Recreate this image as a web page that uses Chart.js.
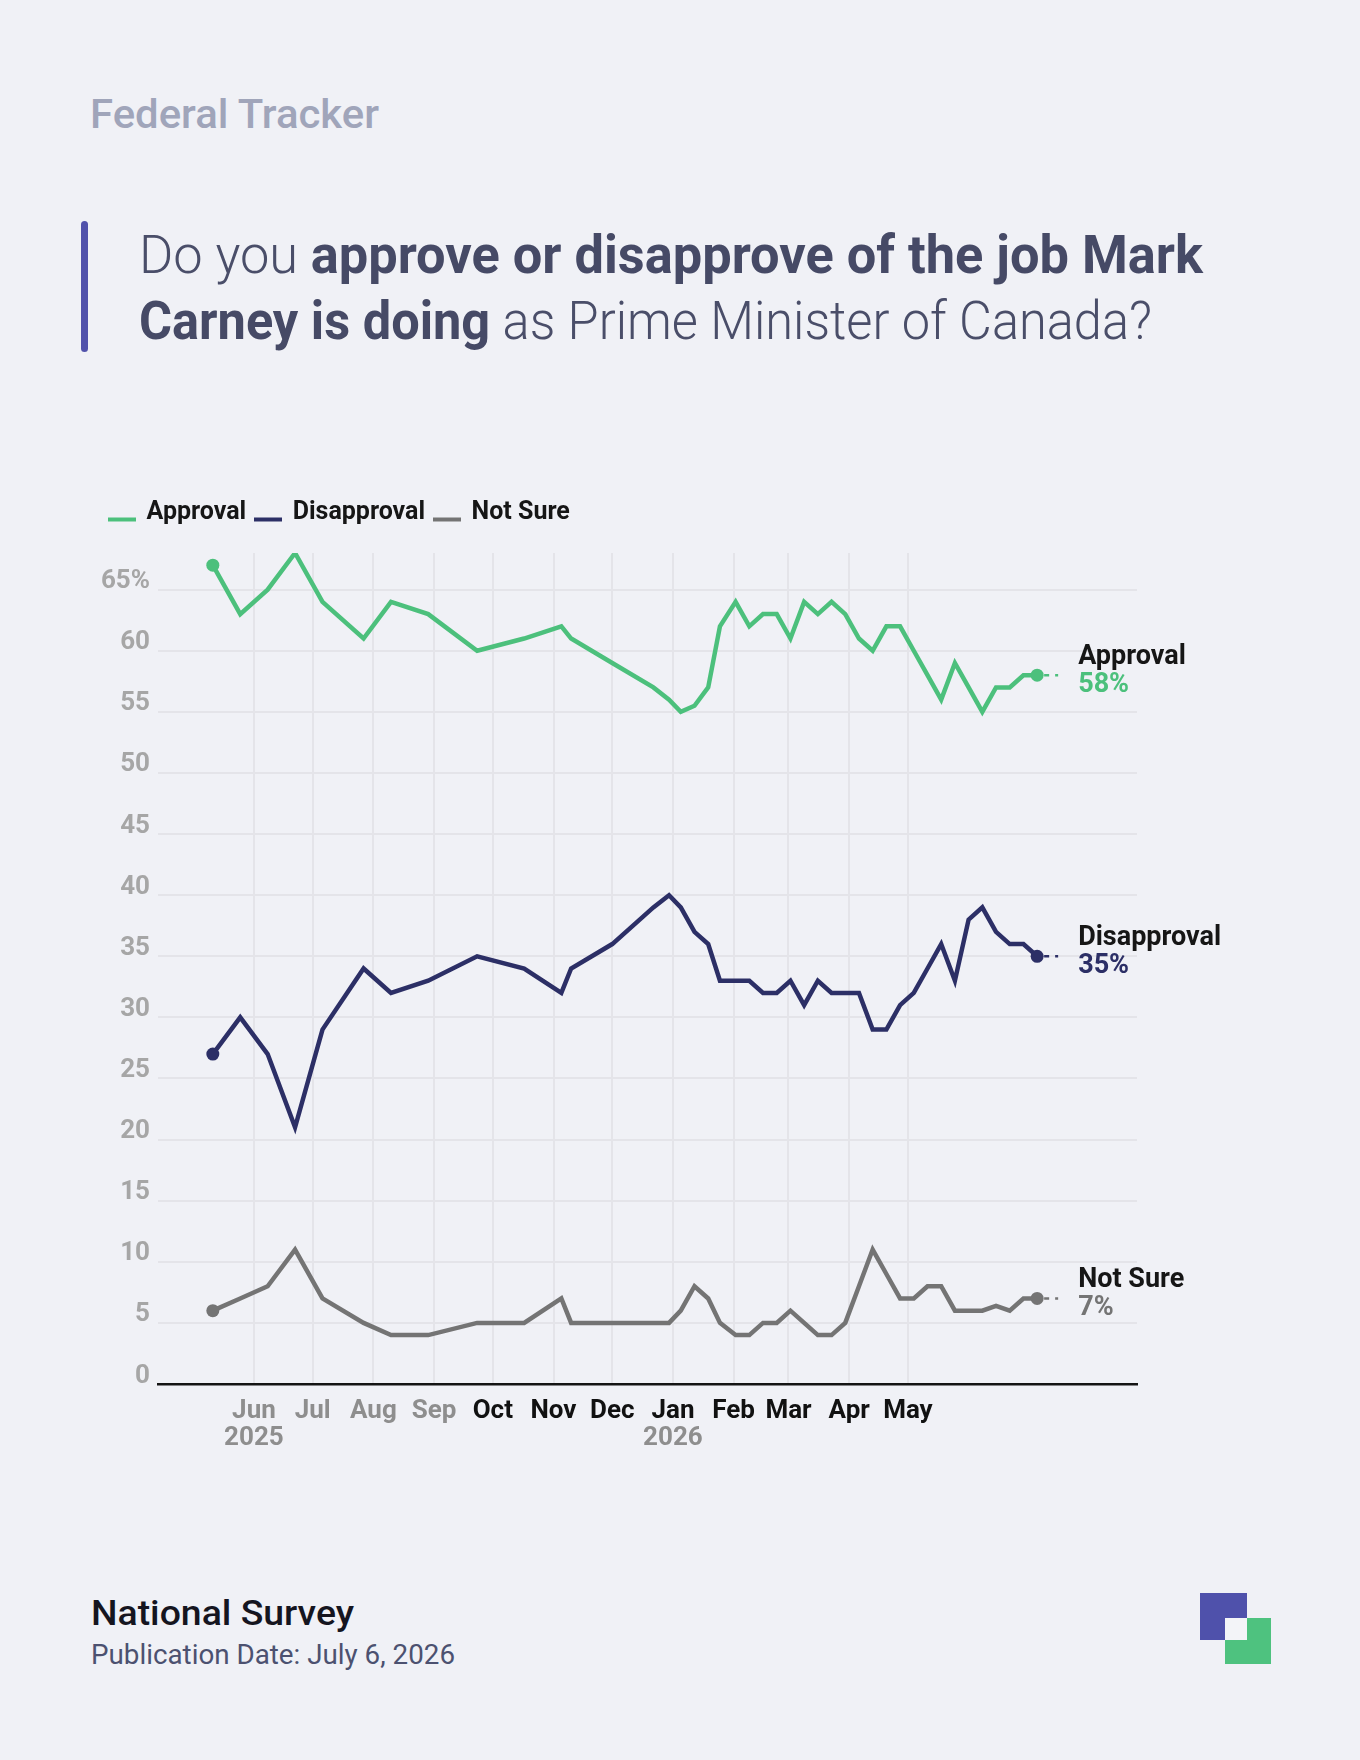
<!DOCTYPE html>
<html lang="en">
<head>
<meta charset="UTF-8">
<title>Federal Tracker - Carney approval</title>
<style>
  html, body { margin: 0; padding: 0; }
  body { width: 1360px; height: 1760px; background: #f0f1f6; position: relative; overflow: hidden; font-family: 'Roboto', sans-serif; }
  .abs { position: absolute; white-space: nowrap; }
  .fit { display: inline-block; transform-origin: 0 0; }
  #kicker { left: 90px; top: 90px; font-size: 41px; line-height: 49px; font-weight: 500; color: #a0a5ba; }
  #bar { position: absolute; left: 81px; top: 221px; width: 7px; height: 131px; background: #5152ab; border-radius: 4px; }
  #title { left: 139px; top: 222px; font-size: 53px; line-height: 66px; font-weight: 300; color: #4a4e69; }
  #title b { font-weight: 700; color: #464a66; }
  #chartBox { position: absolute; left: 100px; top: 470px; width: 1260px; height: 1010px; }
  #source { left: 91px; top: 1593px; font-size: 35px; line-height: 42px; font-weight: 500; color: #15151f; }
  #pubdate { left: 91px; top: 1639px; font-size: 27px; line-height: 32px; color: #4c5170; }
  .sq { position: absolute; }
</style>
</head>
<body>
  <div id="kicker" class="abs"><span class="fit" data-w="289">Federal Tracker</span></div>
  <div id="bar"></div>
  <div id="title" class="abs">
    <div><span class="fit" data-w="1064">Do you <b>approve or disapprove of the job Mark</b></span></div>
    <div><span class="fit" data-w="1013"><b>Carney is doing</b> as Prime Minister of Canada?</span></div>
  </div>

  <div id="chartBox"><canvas id="chart" width="1260" height="1010"></canvas></div>

  <div id="source" class="abs"><span class="fit" data-w="263">National Survey</span></div>
  <div id="pubdate" class="abs"><span class="fit" data-w="364">Publication Date: July 6, 2026</span></div>

  <div class="sq" style="left:1200px;top:1593px;width:47px;height:47px;background:#4f51ab;"></div>
  <div class="sq" style="left:1225px;top:1618px;width:46px;height:46px;background:#4ec27f;"></div>
  <div class="sq" style="left:1225px;top:1618px;width:22px;height:22px;background:#f3f4f8;"></div>

  <script src="https://cdn.jsdelivr.net/npm/chart.js"></script>
  <script>
    // poll dates (weekly from January)
    const dates = ['2025-05-11', '2025-05-25', '2025-06-08', '2025-06-22', '2025-07-06', '2025-07-27',
      '2025-08-10', '2025-08-29', '2025-09-23', '2025-10-17', '2025-11-05', '2025-11-10',
      '2025-12-01', '2025-12-22', '2025-12-30', '2026-01-05', '2026-01-12', '2026-01-19',
      '2026-01-25', '2026-02-02', '2026-02-09', '2026-02-16', '2026-02-23', '2026-03-02',
      '2026-03-09', '2026-03-16', '2026-03-23', '2026-03-30', '2026-04-06', '2026-04-13',
      '2026-04-20', '2026-04-27', '2026-05-04', '2026-05-11', '2026-05-18', '2026-05-25',
      '2026-06-01', '2026-06-08', '2026-06-15', '2026-06-22', '2026-06-29', '2026-07-06'];

    const approval = [67, 63, 65, 68, 64, 61, 64, 63, 60, 61, 62, 61, 59, 57, 56, 55, 55.5, 57, 62, 64, 62,
      63, 63, 61, 64, 63, 64, 63, 61, 60, 62, 62, 60, 58, 56, 59, 57, 55, 57, 57, 58, 58];
    const disapproval = [27, 30, 27, 21, 29, 34, 32, 33, 35, 34, 32, 34, 36, 39, 40, 39, 37, 36, 33, 33, 33,
      32, 32, 33, 31, 33, 32, 32, 32, 29, 29, 31, 32, 34, 36, 33, 38, 39, 37, 36, 36, 35];
    const notSure = [6, 7, 8, 11, 7, 5, 4, 4, 5, 5, 7, 5, 5, 5, 5, 6, 8, 7, 5, 4, 4,
      5, 5, 6, 5, 4, 4, 5, 8, 11, 9, 7, 7, 8, 8, 6, 6, 6, 6.4, 6, 7, 7];

    const seriesNames = ['Approval', 'Disapproval', 'Not Sure'];
    const seriesColors = ['#4cc07c', '#2c2f66', '#747474'];

    const monthTicks = ['2025-06-01', '2025-07-01', '2025-08-01', '2025-09-01', '2025-10-01', '2025-11-01',
      '2025-12-01', '2026-01-01', '2026-02-01', '2026-03-01', '2026-04-01', '2026-05-01'];
    const monthLabels = ['Jun', 'Jul', 'Aug', 'Sep', 'Oct', 'Nov', 'Dec', 'Jan', 'Feb', 'Mar', 'Apr', 'May'];
    const yearTicks = ['2025-06-01', '2026-01-01'];
    const yearLabels = ['2025', '2026'];
    const yTicks = [0, 5, 10, 15, 20, 25, 30, 35, 40, 45, 50, 55, 60, 65];
    const xMin = '2025-04-13';
    const xMax = '2026-08-26';

    // days since 1 June 2025
    function dayNum(s) {
      const [y, m, d] = s.split('-').map(Number);
      return (Date.UTC(y, m - 1, d) - Date.UTC(2025, 5, 1)) / 86400000;
    }

    // the original uses a condensed face: squeeze Roboto to the same width
    document.querySelectorAll('.fit[data-w]').forEach(el => {
      const w = el.getBoundingClientRect().width;
      el.style.transform = 'scaleX(' + (+el.dataset.w / w) + ')';
    });

    // legend swatch: short line sitting on the text baseline
    function swatch(color) {
      const c = document.createElement('canvas');
      c.width = 28; c.height = 26;
      const g = c.getContext('2d');
      g.fillStyle = color;
      g.fillRect(0, 18, 28, 4);
      return c;
    }

    function series(values) {
      return dates.map((d, i) => ({ x: dayNum(d), y: values[i] }));
    }

    const lastIdx = dates.length - 1;
    const datasets = [approval, disapproval, notSure].map((vals, i) => ({
      label: seriesNames[i],
      data: series(vals),
      borderColor: seriesColors[i],
      backgroundColor: seriesColors[i],
      borderWidth: 4.5,
      tension: 0,
      pointRadius: ctx => (ctx.dataIndex === 0 || ctx.dataIndex === lastIdx) ? 6.5 : 0,
      pointBackgroundColor: seriesColors[i],
      pointBorderWidth: 0,
      pointHoverRadius: 0
    }));

    const legendGap = {
      id: 'legendGap',
      beforeInit(chart) {
        if (!chart.legend) return;
        const fit = chart.legend.fit;
        chart.legend.fit = function () { fit.call(this); this.height = 62; };
      }
    };

    const endLabels = {
      id: 'endLabels',
      afterDatasetsDraw(chart) {
        const ctx = chart.ctx;
        chart.data.datasets.forEach((ds, i) => {
          const pts = chart.getDatasetMeta(i).data;
          const p = pts[pts.length - 1];
          ctx.save();
          ctx.strokeStyle = ds.borderColor;
          ctx.lineWidth = 2.5;
          ctx.setLineDash([5, 6]);
          ctx.beginPath();
          ctx.moveTo(p.x + 7, p.y);
          ctx.lineTo(p.x + 21, p.y);
          ctx.stroke();
          ctx.setLineDash([]);
          ctx.font = 'bold 27px Roboto';
          ctx.textAlign = 'left';
          ctx.textBaseline = 'alphabetic';
          ctx.fillStyle = '#161616';
          ctx.fillText(ds.label, p.x + 41, p.y - 11);
          ctx.fillStyle = ds.borderColor;
          ctx.fillText(Math.round(ds.data[ds.data.length - 1].y) + '%', p.x + 41, p.y + 17);
          ctx.restore();
        });
      }
    };

    Chart.defaults.font.family = 'Roboto';

    new Chart(document.getElementById('chart'), {
      type: 'line',
      data: { datasets },
      options: {
        responsive: false,
        animation: false,
        devicePixelRatio: 1,
        layout: { padding: { top: 21, right: 223, bottom: 20, left: 0 } },
        plugins: {
          tooltip: { enabled: false },
          legend: {
            position: 'top',
            align: 'start',
            labels: {
              usePointStyle: true,
              pointStyleWidth: 25,
              padding: 9,
              color: '#161616',
              font: { size: 25, weight: 'bold' },
              generateLabels(chart) {
                const items = Chart.defaults.plugins.legend.labels.generateLabels(chart);
                items.forEach((it, i) => { it.pointStyle = swatch(seriesColors[i]); it.lineWidth = 0; });
                return items;
              }
            }
          }
        },
        scales: {
          x: {
            type: 'linear',
            position: 'bottom',
            weight: 0,
            min: dayNum(xMin),
            max: dayNum(xMax),
            afterBuildTicks: s => { s.ticks = monthTicks.map(d => ({ value: dayNum(d) })); },
            afterFit: s => { s.height = 39; },
            grid: { color: '#e4e4e9', lineWidth: 2, drawTicks: false },
            border: { display: true, color: '#141414', width: 2.5 },
            ticks: {
              autoSkip: false,
              maxRotation: 0,
              padding: 12,
              font: { size: 26, weight: 'bold' },
              color: ctx => ctx.index < 4 ? '#8e8e8e' : '#111111',
              callback: (v, i) => monthLabels[i]
            }
          },
          x2: {
            type: 'linear',
            position: 'bottom',
            weight: 1,
            min: dayNum(xMin),
            max: dayNum(xMax),
            afterBuildTicks: s => { s.ticks = yearTicks.map(d => ({ value: dayNum(d) })); },
            afterFit: s => { s.height = 37; },
            grid: { display: false, drawTicks: false },
            border: { display: false },
            ticks: {
              autoSkip: false,
              maxRotation: 0,
              padding: 0,
              font: { size: 26, weight: 'bold' },
              color: '#8e8e8e',
              callback: (v, i) => yearLabels[i]
            }
          },
          y: {
            min: 0,
            max: 68,
            afterBuildTicks: s => { s.ticks = yTicks.map(v => ({ value: v })); },
            afterFit: s => { s.width = 58; },
            grid: { color: '#e4e4e9', lineWidth: 2, drawTicks: false },
            border: { display: false },
            ticks: {
              padding: 8,
              labelOffset: -8,
              font: { size: 26, weight: 'bold' },
              color: '#a6a6a6',
              callback: v => v === 65 ? '65%' : v
            }
          }
        }
      },
      plugins: [legendGap, endLabels]
    });
  </script>
</body>
</html>
